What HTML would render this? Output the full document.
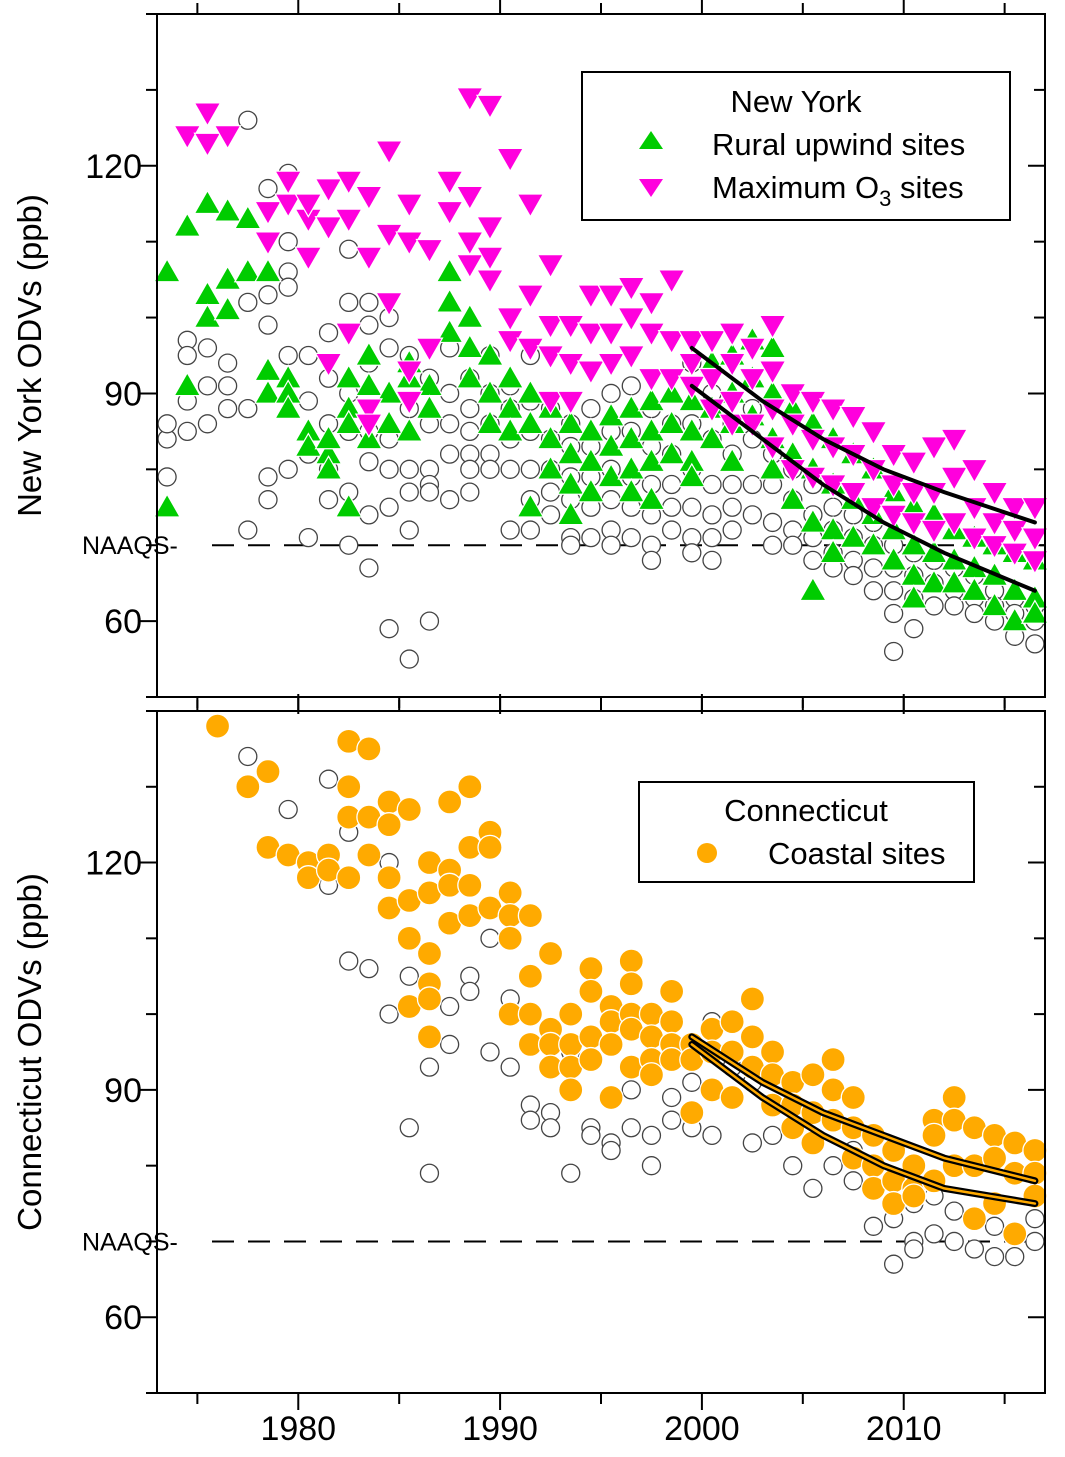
<!DOCTYPE html>
<html><head><meta charset="utf-8"><style>
body{margin:0;background:#fff;}
svg{display:block;font-family:"Liberation Sans",sans-serif;}
</style></head><body>
<svg id="chart" width="1065" height="1457" viewBox="0 0 1065 1457"></svg>
<script>
const xTicks=[1980,1990,2000,2010];
const yTicks=[60,90,120];
const greenYears=[1973,1974,1975,1976,1977,1978,1979,1980,1981,1982,1983,1984,1985,1986,1987,1988,1989,1990,1991,1992,1993,1994,1995,1996,1997,1998,1999,2000,2001,2002,2003,2004,2005,2006,2007,2008,2009,2010,2011,2012,2013,2014,2015,2016];
const greenVals=[[106,75],[112,91],[115,103,100],[114,105,101],[113,106],[106,93,90],[92,90,88],[85,83],[82,80,84],[92,88,75,86],[95,91,84],[90,86],[94,92,85],[91,88],[106,102,98],[100,96,92],[95,90,86],[92,88,85],[90,86,75],[88,84,80],[86,82,78,74],[85,81,77],[87,83,79],[88,84,80,77],[89,85,81,76],[90,86,82],[89,85,81,79],[94,88,84],[95,90,86,81],[97,92,87],[96,90,84,80],[88,82,76],[86,80,73,64],[84,78,72,69],[82,76,71],[80,74,70],[77,72,68],[75,70,66,63],[74,69,65],[72,68,65],[71,67,64],[70,66,62],[69,64,60],[68,63,61]];
const magYears=[1974,1975,1976,1978,1979,1980,1981,1982,1983,1984,1985,1986,1987,1988,1989,1990,1991,1992,1993,1994,1995,1996,1997,1998,1999,2000,2001,2002,2003,2004,2005,2006,2007,2008,2009,2010,2011,2012,2013,2014,2015,2016];
const magVals=[[124],[127,123],[124],[114,110],[118,115],[113,108,115],[117,112,94],[118,113,98],[116,108,88,86],[122,102,111],[115,110,93,89],[109,96],[118,114],[129,116,110,107],[128,112,108,105],[121,100,97],[115,103,96],[107,99,95,89],[99,94,89],[103,98,93],[103,98,94],[104,100,95],[102,98,92],[105,97,92],[97,94,91],[97,92,88],[98,94,89,86],[96,92,86],[99,93,88,83],[90,86,80],[89,84,79],[88,83,78],[87,82,77],[85,80,75],[82,78,74],[81,77,73],[83,77,72],[84,79,73],[80,75,71],[77,73,70],[75,72,69],[75,71,68]];
const grayTopYears=[1973,1974,1975,1976,1977,1978,1979,1980,1981,1982,1983,1984,1985,1986,1987,1988,1989,1990,1991,1992,1993,1994,1995,1996,1997,1998,1999,2000,2001,2002,2003,2004,2005,2006,2007,2008,2009,2010,2011,2012,2013,2014,2015,2016];
const grayTopVals=[[84,86,79],[97,95,89,85],[96,91,86],[94,91,88],[126,102,88,72],[117,103,99,79,76],[119,110,106,104,95,80],[95,89,82,71],[98,92,86,80,76],[109,102,90,85,77,70],[102,99,94,85,81,74,67],[100,96,84,80,75,59],[95,88,80,77,72,55],[92,86,80,78,77,60],[96,90,86,82,76],[92,88,85,82,80,77],[95,90,86,82,80],[91,88,84,80,72],[95,89,85,80,76,72],[88,84,80,77,74],[86,83,79,76,71,70],[88,83,79,75,71],[90,85,80,76,72,70],[91,85,79,75,71],[88,83,78,74,70,68],[86,82,78,75,72],[94,86,80,75,71,69],[90,84,78,74,71,68],[86,82,78,75,72],[88,84,78,74],[82,78,73,70],[80,76,72,70],[78,74,71,68],[75,72,69,67],[74,71,68,66],[73,70,67,64],[70,67,64,61,56],[69,66,63,59],[68,65,62],[67,64,62],[66,63,61],[64,62,60],[63,61,58],[62,60,57]];
const trendTopUpperYears=[1999.5,2003,2006,2009,2012,2016.5];
const trendTopUpperVals=[96,89,84,80,77,73];
const trendTopLowerYears=[1999.5,2003,2006,2009,2012,2016.5];
const trendTopLowerVals=[91,84,78,73,69,64];
const orangeYears=[1975.5,1977,1978,1979,1980,1981,1982,1983,1984,1985,1986,1987,1988,1989,1990,1991,1992,1993,1994,1995,1996,1997,1998,1999,2000,2001,2002,2003,2004,2005,2006,2007,2008,2009,2010,2011,2012,2013,2014,2015,2016];
const orangeVals=[[138],[130],[132,122],[121],[120,118],[121,119],[136,130,126,118],[135,126,121],[128,125,118,114],[127,115,110,101],[120,116,108,104,102,97],[128,119,117,112],[130,122,117,113],[124,122,114],[116,113,110,100],[113,105,100,96],[108,98,96,93],[100,96,93,90],[106,103,97,94],[101,99,96,89],[107,104,100,98,93],[100,97,94,92],[103,99,96,94],[96,94,87],[98,95,90],[99,95,89],[102,97,93],[95,92,88],[91,88,85],[92,87,83],[94,90,86],[89,85,81],[84,80,77],[82,78,75],[80,77,76],[86,84,78],[89,86,80],[85,80,73],[84,81,75],[83,79,71],[82,79,76]];
const grayBotYears=[1977,1979,1980,1981,1982,1983,1984,1985,1986,1987,1988,1989,1990,1991,1992,1993,1994,1995,1996,1997,1998,1999,2000,2001,2002,2003,2004,2005,2006,2007,2008,2009,2010,2011,2012,2013,2014,2015,2016];
const grayBotVals=[[134],[127],[118],[131,117],[124,107],[106],[120,100],[105,85],[93,79],[101,96],[105,103],[110,95],[102,93],[88,86],[87,85],[79,95],[85,84],[83,82],[90,85],[84,80],[89,86],[91,85],[99,84],[93],[91,83],[84],[80],[77],[80],[78,82],[72,80],[73,67],[75,70,69],[76,71],[74,70],[73,69],[72,68],[71,68],[73,70]];
const trendBotUpperYears=[1999.5,2003,2006,2009,2012,2016.5];
const trendBotUpperVals=[97,91,87,84,81,78];
const trendBotLowerYears=[1999.5,2003,2006,2009,2012,2016.5];
const trendBotLowerVals=[96,89,84,80,77,75];
const naaqs=70;

const NS="http://www.w3.org/2000/svg";
const svg=document.getElementById('chart');
const X0=157,X1=1045;
function xs(v){return X0+(v-1973)/(2017-1973)*(X1-X0);}
function xp(v){return xs(v+0.5);}
function mkY(top,bot){return v=>bot-(v-50)/(140-50)*(bot-top);}
function el(tag,attrs,parent){const e=document.createElementNS(NS,tag);for(const k in attrs)e.setAttribute(k,attrs[k]);(parent||svg).appendChild(e);return e;}

function panel(top,bot,name,title){
  const ys=mkY(top,bot);
  const g=el('g',{});
  
  
  for(let v=50;v<=140;v+=10){
    const y=ys(v);const major=(v%30===0);
    const t1=el('line',{x1:X0-(major?17:11),x2:X0,y1:y,y2:y,stroke:'#000','stroke-width':2},g);
    
    const t2=el('line',{x1:X1,x2:X1-(major?17:11),y1:y,y2:y,stroke:'#000','stroke-width':2},g);
    
  }
  yTicks.forEach(v=>{
    const t=el('text',{x:142,y:ys(v)+12,'text-anchor':'end','font-size':34},g);t.textContent=v;
    
  });
  for(let yr=1975;yr<=2015;yr+=5){
    const x=xs(yr);const major=(yr%10===0);
    const a=el('line',{x1:x,x2:x,y1:top,y2:top-(major?17:11),stroke:'#000','stroke-width':2},g);
    
    const b=el('line',{x1:x,x2:x,y1:bot,y2:bot+(major?17:11),stroke:'#000','stroke-width':2},g);
    
  }
  const ny=ys(naaqs);
  const nl=el('line',{x1:X0+55,x2:X1,y1:ny,y2:ny,stroke:'#000','stroke-width':2,'stroke-dasharray':'22,14'},g);
  
  const nt=el('text',{x:82,y:ny+9,'font-size':25},g);nt.textContent='NAAQS-';
  
  const tt=el('text',{x:0,y:0,'font-size':33,'text-anchor':'middle',transform:`translate(41,${(top+bot)/2}) rotate(-90)`},g);tt.textContent=title;
  
  return {g,ys};
}

const P1=panel(14,697,'new-york-panel','New York ODVs (ppb)');
const P2=panel(711,1393,'connecticut-panel','Connecticut ODVs (ppb)');

function circles(g,ys,years,vals,r,fill,stroke,name){
  years.forEach((yr,i)=>vals[i].forEach(v=>{
    const c=el('circle',{cx:xp(yr),cy:ys(v),r:r,fill:fill,stroke:stroke,'stroke-width':1.3},g);
    
    
  }));
}
function tris(g,ys,years,vals,up,fill,name){
  years.forEach((yr,i)=>vals[i].forEach(v=>{
    const x=xp(yr),y=ys(v),s=13;
    const pts=up?`${x},${y-s} ${x-s},${y+s*0.75} ${x+s},${y+s*0.75}`:`${x},${y+s} ${x-s},${y-s*0.75} ${x+s},${y-s*0.75}`;
    const p=el('polygon',{points:pts,fill:fill,stroke:'#fff','stroke-width':1.2},g);
    
    
  }));
}
function line(g,ys,years,vals,stroke,w,name){
  const d=years.map((yr,i)=>(i?'L':'M')+xs(yr)+','+ys(vals[i])).join(' ');
  const p=el('path',{d:d,fill:'none',stroke:stroke,'stroke-width':w,'stroke-linecap':'round'},g);
  
  
}

circles(P1.g,P1.ys,grayTopYears,grayTopVals,9,'#fff','#444','all-sites-point');
tris(P1.g,P1.ys,greenYears,greenVals,true,'#00cc00','rural-upwind-point');
tris(P1.g,P1.ys,magYears,magVals,false,'#ff00dd','maximum-o3-point');
line(P1.g,P1.ys,trendTopUpperYears,trendTopUpperVals,'#000',4,'trend-max-o3');
line(P1.g,P1.ys,trendTopLowerYears,trendTopLowerVals,'#000',4,'trend-rural');

circles(P2.g,P2.ys,grayBotYears,grayBotVals,9,'#fff','#444','all-sites-point');
circles(P2.g,P2.ys,orangeYears,orangeVals,12,'#ffaa00','#fff','coastal-site-point');
[[trendBotUpperYears,trendBotUpperVals],[trendBotLowerYears,trendBotLowerVals]].forEach(t=>{
  line(P2.g,P2.ys,t[0],t[1],'#000',7,'trend-coastal-outline');
  line(P2.g,P2.ys,t[0],t[1],'#ffaa00',2.5,'trend-coastal');
});

[[14,697],[711,1393]].forEach(b=>{
  const r=el('rect',{x:X0,y:b[0],width:X1-X0,height:b[1]-b[0],fill:'none',stroke:'#000','stroke-width':2});
  
});
xTicks.forEach(v=>{
  const t=el('text',{x:xs(v),y:1440,'text-anchor':'middle','font-size':34});t.textContent=v;
  
});
</script>
<svg style="position:absolute;left:0;top:0" width="1065" height="1457">
 <g font-family="Liberation Sans, sans-serif" font-size="31">
  <rect x="582" y="72" width="428" height="148" fill="#fff" stroke="#000" stroke-width="2"/>
  <text x="796" y="112" text-anchor="middle">New York</text>
  <polygon points="651,131 639,149 663,149" fill="#00cc00"/>
  <text x="712" y="155">Rural upwind sites</text>
  <polygon points="651,197 639,179 663,179" fill="#ff00dd"/>
  <text x="712" y="198">Maximum O<tspan font-size="22" dy="8">3</tspan><tspan dy="-8"> sites</tspan></text>
 </g>
 <g font-family="Liberation Sans, sans-serif" font-size="31">
  <rect x="639" y="782" width="335" height="100" fill="#fff" stroke="#000" stroke-width="2"/>
  <text x="806" y="821" text-anchor="middle">Connecticut</text>
  <circle cx="707" cy="853" r="10" fill="#ffaa00"/>
  <text x="768" y="864">Coastal sites</text>
 </g>
</svg>
</body></html>
